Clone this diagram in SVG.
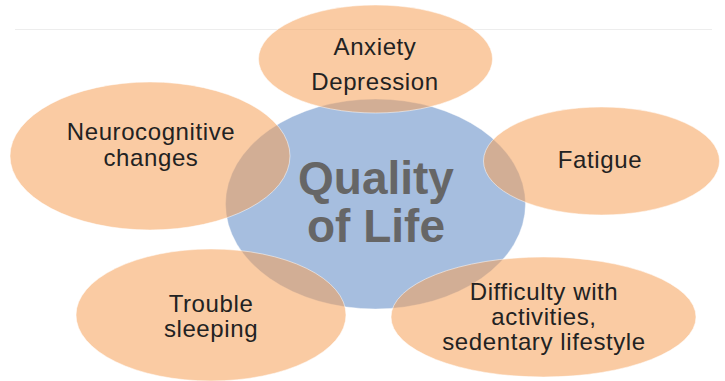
<svg xmlns="http://www.w3.org/2000/svg" width="725" height="381" viewBox="0 0 725 381">
  <style>
    .hub { fill: #A6BEDF; stroke: #ffffff; stroke-opacity: 0.4; stroke-width: 1; }
    .leaf { fill: #F6A058; fill-opacity: 0.55; stroke: #ffffff; stroke-opacity: 0.5; stroke-width: 1; }
    .label { font-family: "Liberation Sans", Arial, sans-serif; font-size: 24px; letter-spacing: 0.6px; fill: #222222; text-anchor: middle; }
    .title { font-family: "Liberation Sans", Arial, sans-serif; font-size: 46px; font-weight: bold; fill: #666666; text-anchor: middle; }
  </style>

  <!-- faint rule across the top -->
  <line x1="15" y1="29.5" x2="712" y2="29.5" stroke="#EDEDED" stroke-width="1"/>

  <g id="connectors"></g>

  <g id="quality-of-life">
    <ellipse class="hub" cx="375.5" cy="204" rx="150" ry="105"/>
    <text class="title" x="376" y="194">Quality</text>
    <text class="title" x="376" y="242">of Life</text>
  </g>

  <g id="anxiety-depression">
    <ellipse class="leaf" cx="375.5" cy="59" rx="117" ry="54"/>
    <text class="label" x="375" y="55">Anxiety</text>
    <text class="label" x="375" y="90">Depression</text>
  </g>

  <g id="neurocognitive">
    <ellipse class="leaf" cx="150" cy="156" rx="140" ry="74"/>
    <text class="label" x="151" y="140">Neurocognitive</text>
    <text class="label" x="151" y="166">changes</text>
  </g>

  <g id="fatigue">
    <ellipse class="leaf" cx="601.5" cy="161" rx="118" ry="54"/>
    <text class="label" x="600" y="168">Fatigue</text>
  </g>

  <g id="trouble-sleeping">
    <ellipse class="leaf" cx="211" cy="315" rx="135" ry="66"/>
    <text class="label" x="211" y="312">Trouble</text>
    <text class="label" x="211" y="337">sleeping</text>
  </g>

  <g id="difficulty-activities">
    <ellipse class="leaf" cx="543.5" cy="317" rx="152.5" ry="60"/>
    <text class="label" x="544" y="300">Difficulty with</text>
    <text class="label" x="544" y="325">activities,</text>
    <text class="label" x="544" y="350">sedentary lifestyle</text>
  </g>
</svg>
